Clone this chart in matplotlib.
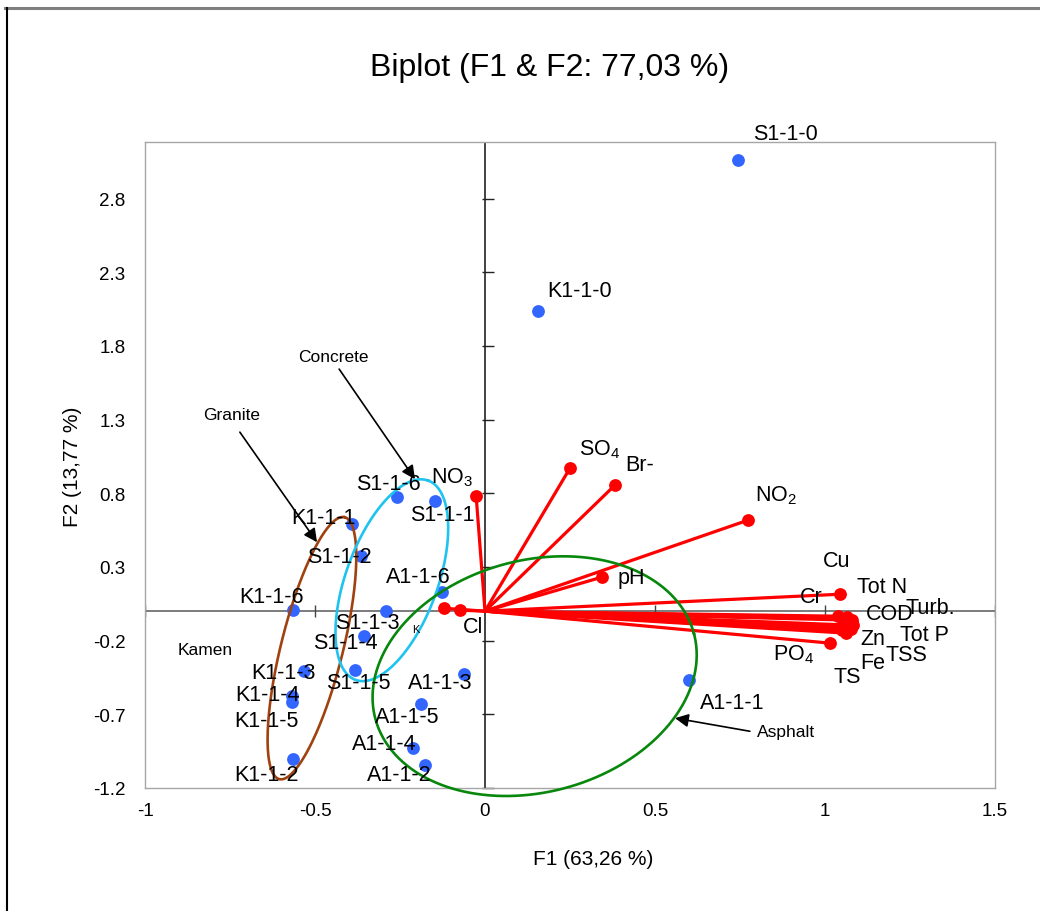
import numpy as np
import matplotlib
matplotlib.use('Agg')
import matplotlib.pyplot as plt
from matplotlib.lines import Line2D

plt.rcParams['font.family'] = ['Liberation Sans', 'DejaVu Sans']
plt.rcParams['mathtext.fontset'] = 'custom'
plt.rcParams['mathtext.rm'] = 'Liberation Sans'
plt.rcParams['mathtext.it'] = 'Liberation Sans'

# observations (F1, F2)
obs_names = ['S1-1-0', 'K1-1-0', 'S1-1-6', 'S1-1-1', 'K1-1-1', 'S1-1-2', 'A1-1-6',
             'K1-1-6', 'S1-1-3', 'S1-1-4', 'K1-1-3', 'S1-1-5', 'A1-1-3', 'K1-1-4',
             'K1-1-5', 'A1-1-5', 'A1-1-4', 'A1-1-2', 'K1-1-2', 'A1-1-1']
obs_f1 = [0.744, 0.156, -0.259, -0.147, -0.391, -0.365, -0.126,
          -0.565, -0.291, -0.356, -0.532, -0.382, -0.062, -0.568,
          -0.568, -0.188, -0.212, -0.176, -0.565, 0.600]
obs_f2 = [3.06, 2.04, 0.774, 0.747, 0.590, 0.373, 0.129,
          0.007, 0.0, -0.170, -0.407, -0.400, -0.428, -0.577,
          -0.618, -0.632, -0.930, -1.045, -1.005, -0.468]

# variables (loadings)
var_names = ['NO$_3$', 'SO$_4$', 'Br-', 'NO$_2$', 'pH', 'Cl', 'K', 'Cu', 'Cr', 'COD',
             'Tot N', 'Turb.', 'Tot P', 'TSS', 'Zn', 'Fe', 'TS', 'PO$_4$']
var_f1 = [-0.026, 0.250, 0.382, 0.774, 0.344, -0.074, -0.121, 1.044, 1.038, 1.053,
          1.065, 1.079, 1.082, 1.076, 1.068, 1.062, 1.050, 1.015]
var_f2 = [0.781, 0.971, 0.855, 0.618, 0.231, 0.007, 0.020, 0.115, -0.034, -0.054,
          -0.041, -0.061, -0.095, -0.122, -0.109, -0.149, -0.129, -0.217]

xticks = [-1, -0.5, 0, 0.5, 1, 1.5]
yticks = [-1.2, -0.7, -0.2, 0.3, 0.8, 1.3, 1.8, 2.3, 2.8]
xlim = (-1, 1.5)
ylim = (-1.2, 3.184)

# label offsets in pixels (dx, dy)
obs_off = {'S1-1-0': (47, 27), 'K1-1-0': (42, 20), 'S1-1-6': (-9, 14), 'S1-1-1': (7, -13),
           'K1-1-1': (-29, 7), 'S1-1-2': (-22, 0), 'A1-1-6': (-24, 16), 'K1-1-6': (-21, 14),
           'S1-1-3': (-19, -11), 'S1-1-4': (-19, -6), 'K1-1-3': (-21, -1), 'S1-1-5': (3, -12),
           'A1-1-3': (-24, -8), 'K1-1-4': (-24, 2), 'K1-1-5': (-25, -18), 'A1-1-5': (-14, -12),
           'A1-1-4': (-29, 5), 'A1-1-2': (-26, -9), 'K1-1-2': (-26, -15), 'A1-1-1': (43, -22)}
var_off = {'NO$_3$': (-24, 19), 'SO$_4$': (30, 19), 'Br-': (25, 21), 'NO$_2$': (28, 25),
           'pH': (29, 0), 'Cl': (13, -16), 'K': (-28, -21), 'Cu': (-3, 34), 'Cr': (-27, 20),
           'COD': (47, 6), 'Tot N': (35, 31), 'Turb.': (78, 13), 'Tot P': (72, -9),
           'TSS': (56, -25), 'Zn': (25, -11), 'Fe': (27, -29), 'TS': (5, -46),
           'PO$_4$': (-37, -11)}

W, H = 1040, 912
fig = plt.figure(figsize=(W / 100, H / 100), dpi=100)
ax = fig.add_axes([145 / W, 1 - 789 / H, 850 / W, 646 / H])
ax.set_xlim(xlim)
ax.set_ylim(ylim)

for s in ax.spines.values():
    s.set_color('#a6a6a6')
    s.set_linewidth(1)
ax.set_xticks(xticks)
ax.set_xticklabels([('%g' % v) for v in xticks])
ax.set_yticks(yticks)
ax.set_yticklabels([('%g' % v) for v in yticks])
ax.tick_params(axis='both', length=0, labelsize=13.5)
ax.tick_params(axis='x', pad=10)
ax.tick_params(axis='y', pad=14)

# central axes with ticks
ax.axhline(0, color='#666666', lw=1.2, zorder=1)
ax.axvline(0, color='#222222', lw=1.2, zorder=1)
ax.plot([t for t in xticks if t != 0], [0] * 5, ls='none', marker='|', ms=9,
        mew=1, color='#444444', zorder=1)
ax.plot([0.01] * len(yticks), yticks, ls='none', marker='_', ms=9, mew=1,
        color='#222222', zorder=1, clip_on=False)

# variable vectors
for n, x, y in zip(var_names, var_f1, var_f2):
    ax.plot([0, x], [0, y], color='red', lw=2.3, zorder=2, solid_capstyle='round')
ax.scatter(var_f1, var_f2, s=85, color='red', zorder=3, lw=0)
for n, x, y in zip(var_names, var_f1, var_f2):
    fs = 8 if n == 'K' else 15.5
    ax.annotate(n, (x, y), xytext=var_off[n], textcoords='offset pixels',
                ha='center', va='center', fontsize=fs, zorder=6)

# observations
ax.scatter(obs_f1, obs_f2, s=85, color='#3366ff', zorder=3, lw=0)
for n, x, y in zip(obs_names, obs_f1, obs_f2):
    ax.annotate(n, (x, y), xytext=obs_off[n], textcoords='offset pixels',
                ha='center', va='center', fontsize=15.5, zorder=6)

# ellipses (semi-axes in x data units, angle on screen)
sx = 850 / (xlim[1] - xlim[0])
sy = 646 / (ylim[1] - ylim[0])

def ellipse(cx, cy, a, b, ang, color):
    t = np.linspace(0, 2 * np.pi, 300)
    th = np.radians(ang)
    dx = a * np.cos(th) * np.cos(t) - b * np.sin(th) * np.sin(t)
    dy = a * np.sin(th) * np.cos(t) + b * np.cos(th) * np.sin(t)
    ax.plot(cx + dx, cy + dy * sx / sy, color=color, lw=1.9, zorder=5, clip_on=False)

ellipse(-0.509, -0.251, 0.397, 0.091, 76, '#a0420f')
ellipse(-0.274, 0.210, 0.312, 0.135, 70, '#1ec3f0')
ellipse(0.146, -0.441, 0.485, 0.341, 15, '#07870b')

# annotations
arr = dict(arrowstyle='-|>', color='black', lw=1.2, mutation_scale=20, shrinkA=0, shrinkB=0)
ax.annotate('', xy=(-0.206, 0.896), xytext=(-0.429, 1.643), arrowprops=arr, zorder=7)
ax.text(-0.447, 1.731, 'Concrete', ha='center', va='center', fontsize=12.5)
ax.annotate('', xy=(-0.494, 0.468), xytext=(-0.721, 1.215), arrowprops=arr, zorder=7)
ax.text(-0.744, 1.337, 'Granite', ha='center', va='center', fontsize=12.5)
ax.annotate('', xy=(0.559, -0.726), xytext=(0.779, -0.815), arrowprops=arr, zorder=7)
ax.text(0.885, -0.815, 'Asphalt', ha='center', va='center', fontsize=12.5)
ax.text(-0.824, -0.258, 'Kamen', ha='center', va='center', fontsize=12.5)

fig.text(550 / W, 1 - 68 / H, 'Biplot (F1 & F2: 77,03 %)', ha='center', va='center', fontsize=23)
fig.text(593 / W, 1 - 860 / H, 'F1 (63,26 %)', ha='center', va='center', fontsize=15)
fig.text(72 / W, 1 - 467 / H, 'F2 (13,77 %)', ha='center', va='center', fontsize=15, rotation=90)

# outer frame
fig.add_artist(Line2D([5 / W, 1], [1 - 9 / H, 1 - 9 / H], color='#7f7f7f', lw=2.2))
fig.add_artist(Line2D([7 / W, 7 / W], [0, 1 - 9 / H], color='black', lw=1.5))

fig.savefig('out.png', dpi=100)
